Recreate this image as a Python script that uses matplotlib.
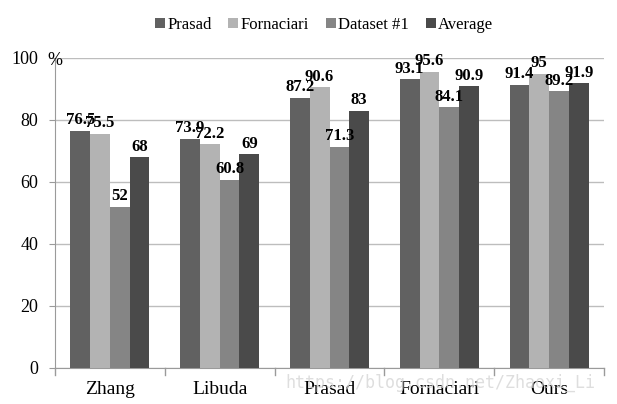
import matplotlib
matplotlib.use("Agg")
import matplotlib.pyplot as plt
import numpy as np

categories = ["Zhang", "Libuda", "Prasad", "Fornaciari", "Ours"]
series_names = ["Prasad", "Fornaciari", "Dataset #1", "Average"]
prasad = [76.5, 73.9, 87.2, 93.1, 91.4]
fornaciari = [75.5, 72.2, 90.6, 95.6, 95]
dataset1 = [52, 60.8, 71.3, 84.1, 89.2]
average = [68, 69, 83, 90.9, 91.9]
labels_prasad = ["76.5", "73.9", "87.2", "93.1", "91.4"]
labels_fornaciari = ["75.5", "72.2", "90.6", "95.6", "95"]
labels_dataset1 = ["52", "60.8", "71.3", "84.1", "89.2"]
labels_average = ["68", "69", "83", "90.9", "91.9"]
yticks = [0, 20, 40, 60, 80, 100]
ytick_labels = ["0", "20", "40", "60", "80", "100"]

colors = ["#616161", "#b3b3b3", "#858585", "#4a4a4a"]

plt.rcParams['font.family'] = ['Liberation Serif', 'DejaVu Serif']

fig = plt.figure(figsize=(6.17, 4.04), dpi=100)
ax = fig.add_axes([55 / 617, 36 / 404, 549 / 617, 310 / 404])

x = np.arange(len(categories))
w = 0.18
all_series = [prasad, fornaciari, dataset1, average]
all_labels = [labels_prasad, labels_fornaciari, labels_dataset1, labels_average]
for i, (vals, labs) in enumerate(zip(all_series, all_labels)):
    pos = x + (i - 1.5) * w
    ax.bar(pos, vals, width=w, color=colors[i], label=series_names[i], zorder=3)
    for p, v, t in zip(pos, vals, labs):
        ax.text(p, v + 0.8, t, ha="center", va="bottom", fontsize=12,
                fontweight="bold", zorder=4)

ax.set_xlim(-0.5, len(categories) - 0.5)
ax.set_ylim(0, 100)
ax.set_yticks(yticks)
ax.set_yticklabels(ytick_labels, fontsize=13)
ax.yaxis.grid(True, color="#bdbdbd", linewidth=1, zorder=0)
ax.set_axisbelow(True)
ax.text(-0.565, 99.3, "%", ha="left", va="center", fontsize=13, clip_on=False)

ax.set_xticks(x)
ax.set_xticklabels(categories, fontsize=14)
ax.tick_params(axis="x", length=0, pad=9)
for b in np.arange(-0.5, len(categories), 1.0):
    ax.plot([b, b], [0, -2.2], color="#9a9a9a", lw=1, clip_on=False, zorder=2)

ax.tick_params(axis="y", length=4, color="#9a9a9a", pad=8)
for s in ["top", "right"]:
    ax.spines[s].set_visible(False)
for s in ["left", "bottom"]:
    ax.spines[s].set_color("#9a9a9a")

ax.legend(loc="center", bbox_to_anchor=(0.49, 1.107), ncol=4, frameon=False,
          fontsize=12, handlelength=0.6, handleheight=0.6, handletextpad=0.15,
          columnspacing=1.0)

fig.text(285 / 617, 1 - 383 / 404, "https://blog.csdn.net/Zhaoxi_Li", fontsize=12,
         family="DejaVu Sans Mono", color="#d6d6d6", alpha=0.8, ha="left", va="center")

fig.savefig("out.png", dpi=100)
